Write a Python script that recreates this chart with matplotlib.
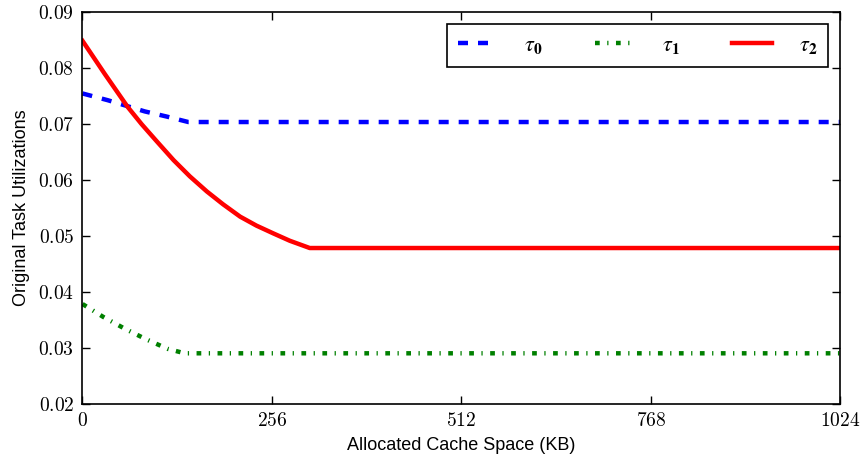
import numpy as np
import matplotlib
matplotlib.use('Agg')
import matplotlib.pyplot as plt
from matplotlib.font_manager import FontProperties

# valores
kb_t0 = [0, 34, 84, 113, 143, 1024]
util_t0 = [0.0754, 0.0742, 0.0722, 0.0713, 0.0703, 0.0703]

kb_t1 = [0, 28, 57, 86, 115, 138, 1024]
util_t1 = [0.0378, 0.0355, 0.0334, 0.0315, 0.0298, 0.0290, 0.0290]

kb_t2 = [0, 30, 61, 80, 100, 123, 145, 168, 190, 213, 235, 258, 280, 307, 1024]
util_t2 = [0.0848, 0.0789, 0.0730, 0.0699, 0.0669, 0.0635, 0.0606, 0.0579,
           0.0556, 0.0534, 0.0518, 0.0504, 0.0491, 0.0478, 0.0478]

labels = [r'$\tau_\mathbf{0}$', r'$\tau_\mathbf{1}$', r'$\tau_\mathbf{2}$']

x_ticks = [0, 256, 512, 768, 1024]
x_ticklabels = [r'$0$', r'$256$', r'$512$', r'$768$', r'$1024$']
y_ticks = [0.02, 0.03, 0.04, 0.05, 0.06, 0.07, 0.08, 0.09]
y_ticklabels = [r'$%.2f$' % v for v in y_ticks]

plt.rcParams['mathtext.fontset'] = 'cm'
plt.rcParams['font.family'] = ['Liberation Sans', 'DejaVu Sans']
plt.rcParams['lines.scale_dashes'] = False


def report():
    fig = plt.figure(figsize=(8.62, 4.61), dpi=100)
    ax = fig.add_axes([0.0957, 0.1243, 0.8793, 0.8503])

    ax.plot(kb_t0, util_t0, color='blue', lw=3.2, dashes=(7.2, 7.2), label=labels[0])
    ax.plot(kb_t1, util_t1, color='green', lw=3.2, dashes=(3.4, 5.4, 0.9, 5.4), label=labels[1])
    ax.plot(kb_t2, util_t2, color='red', lw=3.2, label=labels[2])

    ax.set_xlim(0, 1024)
    ax.set_ylim(0.02, 0.09)
    ax.set_xticks(x_ticks)
    ax.set_xticklabels(x_ticklabels, fontsize=14)
    ax.set_yticks(y_ticks)
    ax.set_yticklabels(y_ticklabels, fontsize=14)
    ax.tick_params(direction='in', length=5.5, width=1, top=True, right=True, pad=6)
    for s in ax.spines.values():
        s.set_linewidth(1.2)

    ax.set_xlabel('Allocated Cache Space (KB)', fontsize=13, labelpad=5)
    ax.set_ylabel('Original Task Utilizations', fontsize=13, labelpad=6)

    leg_font = FontProperties(size=16, math_fontfamily='stix')
    leg = ax.legend(loc='upper right', ncol=3, prop=leg_font, handlelength=1.8,
                    handletextpad=1.2, columnspacing=2.35, borderaxespad=0.55,
                    borderpad=0.5, fancybox=False, framealpha=1)
    leg.get_frame().set_edgecolor('black')
    leg.get_frame().set_linewidth(1.2)

    fig.savefig('out.png', dpi=100)


if __name__ == "__main__":
    report()
